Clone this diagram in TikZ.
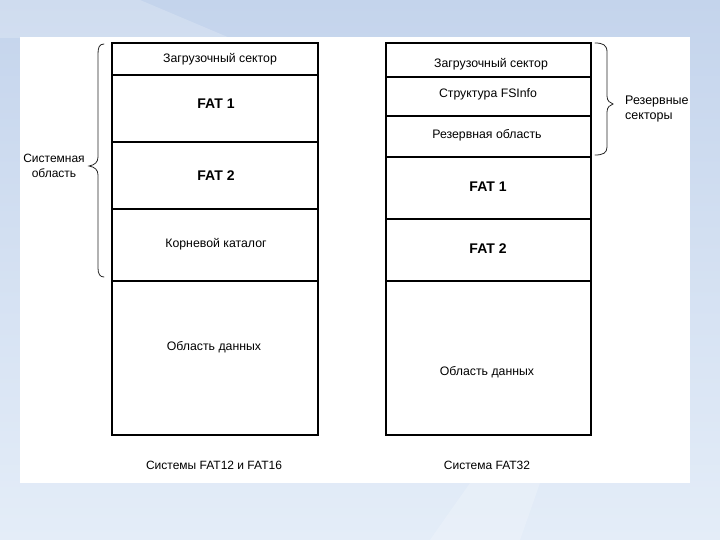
\documentclass[tikz,border=0pt]{standalone}
\usepackage{fontspec}
\setmainfont{Liberation Sans}
\begin{document}
\begin{tikzpicture}[x=1pt,y=-1pt,
  cell/.style={draw=black,line width=2pt,anchor=north west,inner sep=0pt,outer sep=0pt},
  txt/.style={font=\fontsize{12.3}{14}\selectfont,inner sep=0pt},
  captxt/.style={font=\fontsize{12}{14}\selectfont,inner sep=0pt},
  big/.style={font=\fontsize{14}{16}\selectfont\bfseries,inner sep=0pt},
  side/.style={font=\fontsize{12}{14.5}\selectfont,inner sep=0pt,align=left},
  bracepath/.style={draw=black!85,line width=0.8pt,line cap=round}]
\definecolor{bgtop}{RGB}{196,212,236}
\definecolor{bgbot}{RGB}{228,237,248}
\useasboundingbox (0,0) rectangle (720,540);
\begin{scope}
\clip (0,0) rectangle (720,540);
% background
\shade[top color=bgtop,bottom color=bgbot] (0,0) rectangle (720,540);
\fill[white,opacity=0.2] (0,0) -- (140,0) -- (230,38) -- (0,38) -- cycle;
\fill[white,opacity=0.2] (430,540) -- (470,483) -- (540,483) -- (520,540) -- cycle;
\fill[white] (20,37) rectangle (690,483);
\end{scope}

% left column cells
\node[cell,minimum width=206pt,minimum height=32pt] (l1) at (112,43) {};
\node[cell,minimum width=206pt,minimum height=67pt] (l2) at (112,75) {};
\node[cell,minimum width=206pt,minimum height=67pt] (l3) at (112,142) {};
\node[cell,minimum width=206pt,minimum height=72pt] (l4) at (112,209) {};
\node[cell,minimum width=206pt,minimum height=154pt] (l5) at (112,281) {};

\node[txt] (tl1) at (220,59) {Загрузочный сектор};
\node[big] (tl2) at (216,104) {FAT 1};
\node[big] (tl3) at (216,176) {FAT 2};
\node[txt] (tl4) at (216,244) {Корневой каталог};
\node[txt] (tl5) at (214,347) {Область данных};
\node[captxt] (capl) at (214,465) {Системы FAT12 и FAT16};

% right column cells
\node[cell,minimum width=205pt,minimum height=34pt] (r1) at (386,43) {};
\node[cell,minimum width=205pt,minimum height=39pt] (r2) at (386,77) {};
\node[cell,minimum width=205pt,minimum height=41pt] (r3) at (386,116) {};
\node[cell,minimum width=205pt,minimum height=62pt] (r4) at (386,157) {};
\node[cell,minimum width=205pt,minimum height=62pt] (r5) at (386,219) {};
\node[cell,minimum width=205pt,minimum height=154pt] (r6) at (386,281) {};

\node[txt] (tr1) at (491,64) {Загрузочный сектор};
\node[txt] (tr2) at (488,94) {Структура FSInfo};
\node[txt] (tr3) at (487,135) {Резервная область};
\node[big] (tr4) at (488,187) {FAT 1};
\node[big] (tr5) at (488,249) {FAT 2};
\node[txt] (tr6) at (487,372) {Область данных};
\node[captxt] (capr) at (487,465) {Система FAT32};

% left brace
\coordinate (lbt) at (104,44);
\coordinate (lbtip) at (89,166);
\coordinate (lbb) at (104,277);
\draw[bracepath] (lbt) .. controls (99,44) and (98,48) .. (98,54)
  -- (98,157) .. controls (98,162) and (95,165) .. (lbtip)
  .. controls (95,167) and (98,170) .. (98,175)
  -- (98,268) .. controls (98,274) and (100,277) .. (lbb);
\node[side,align=center] (lbl) at (54,166) {Системная\\область};

% right brace
\coordinate (rbt) at (595,43);
\coordinate (rbtip) at (613,104);
\coordinate (rbb) at (595,155);
\draw[bracepath] (rbt) .. controls (603,43) and (607,45) .. (607,52)
  -- (607,96) .. controls (607,101) and (610,103) .. (rbtip)
  .. controls (610,105) and (607,107) .. (607,112)
  -- (607,147) .. controls (607,153) and (603,155) .. (rbb);
\node[side,anchor=west,font=\fontsize{12.5}{14.5}\selectfont] (rbl) at (625,109) {Резервные\\секторы};
\end{tikzpicture}
\end{document}
